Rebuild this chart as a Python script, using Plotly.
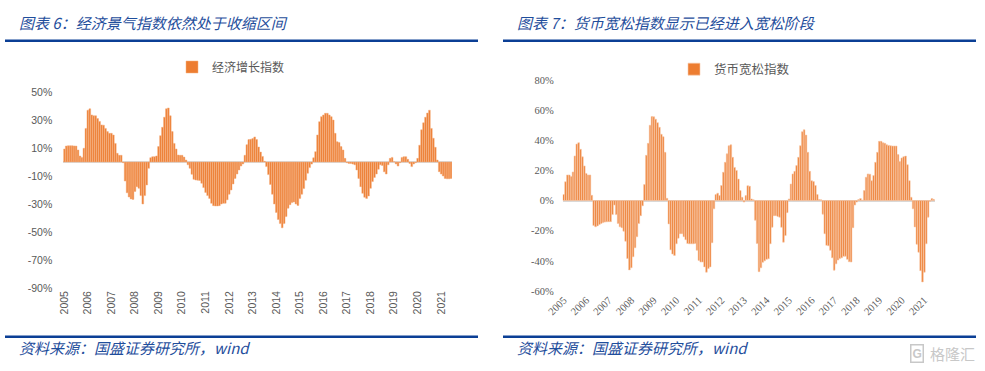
import plotly.graph_objects as go

# ---------------- data ----------------
months = [f"{y}-{m:02d}" for y in range(2005, 2022) for m in range(1, 13)][:198]
year_ticks = [f"{y}-01" for y in range(2005, 2022)]
year_labels = [str(y) for y in range(2005, 2022)]

econ_index = [
    9.3, 11.4, 11.6, 11.6, 11.6, 11.5, 11.4, 8.6, 4.3, 3.3, 9.8, 24,
    37, 38, 33.6, 33, 33, 31, 29, 26.5, 26.3, 24, 21.7, 20.5,
    20.5, 19.3, 13.3, 6.2, 4.8, 4.8, -0.5, -13.6, -22, -25, -26.4, -26.7,
    -21, -17.6, -18.8, -24, -30, -24, -16.4, -4.5, 3.1, 3.8, 3.8, 4.3,
    11, 18.8, 24.8, 32, 38, 38.6, 33, 21.7, 13.3, 9.3, 5, 4.8,
    4.8, 3.5, 1.4, -2, -4.5, -8.8, -12.4, -12.9, -13, -13.2, -15.2, -18.3,
    -21.7, -24, -26, -29.5, -31.2, -31.4, -31.4, -31.2, -30, -29.5, -29.5, -27,
    -23, -20, -15.7, -11.7, -8.6, -5.7, -2.9, -1.4, 4.8, 12.4, 16, 16.2,
    16.7, 17.9, 16, 10.7, 7.1, 4, 0.5, -3.3, -9, -16, -23, -30,
    -36, -41, -44, -47, -44, -39, -33, -30.5, -29, -28.5, -30, -31,
    -26, -23, -19, -13, -8, -4, -1.5, 3, 7.4, 19.3, 28.8, 32.4,
    33.6, 34.8, 34.8, 33.6, 32.4, 30, 20.5, 14.5, 14, 11, 8.6, 2.6,
    -0.5, -1, -1, -1.5, -2, -5.7, -11.7, -17.6, -22.4, -25.2, -26, -24.3,
    -18.8, -14, -11, -8.6, -5.2, -2, -2.5, -7, -8.6, -2, 2.6, 3.3,
    0.2, -1.4, -2.9, -0.5, 3.3, 3.8, 3.8, 1.9, -1, -3.3, -1.4, -0.5,
    2.6, 12, 23, 28, 32, 35, 37, 24, 17, 10.5, 1.4, -6.9,
    -8.6, -10, -11.7, -12, -12, -11.7,
]

money_index = [
    4, 12.5, 17, 17, 16, 19, 29.6, 37.5, 38.4, 34, 29, 23, 18, 17, 17, 3.5,
    -16.5, -17.4, -16.8, -15.9, -15.2, -14.6, -14.3, -14.1, -14, -14, -9.3, -3,
    -9.3, -15.2, -17.4, -18, -20.3, -27, -38.4, -46, -44.6, -37.3, -31.3, -24,
    -15.2, -10, -3.5,
    10.6, 30, 38, 50, 55.8, 55.6, 54, 51.7, 48.6, 44, 42.4, 32, 1.5,
    -15.5, -32.7, -35.5, -36.4, -28.7, -25, -22, -22, -24, -26, -28.5, -28.7,
    -28.7, -28.7, -28.5, -33, -39.7, -40.8, -40.8, -44, -47.5, -45, -44, -28, -5.5,
    4, 4.9, 3.3, 10, 18.8, 25.4, 31, 36.4, 37, 28.7, 22, 20, 14.3, 6.6, 2.2, -1,
    3.3, 9.9, 9.5, 1.1,
    0.5,
    -13, -28.5, -47.2, -44.6, -41, -40, -39, -38.6, -28.7, -17.7, -10, -10,
    -10.6, -11, -17.7, -27.6, -23.2, -8,
    1.1, 11, 17.7, 19.4, 23.2, 28.7, 36.4, 45.7, 47, 43.5, 32, 19.4, 13.2, 12.6,
    10, 4, 0.7, 0.5,
    -9, -22, -29.7, -30, -33, -38, -46.2, -42, -39.5, -38.5, -38, -37, -36.9,
    -39, -40.6, -40.8, -18, -3, -1,
    0.7, 1.3, 0.3, 6.6, 15.5, 17.7, 17.5, 13.2, 16.6, 25.4, 32, 39.3, 39.3, 38.4,
    38, 37, 36.6, 36.4, 36.2, 36.2, 36.2, 30.5, 26, 28.3, 29.1, 29.5, 23.8, 13.2, 2.2,
    -5.5, -17.5, -29, -34.3, -46.5, -54, -47.5, -28.7, -11,
    -0.5, 1.3, 0.8,
]

left_yticks = [-90, -70, -50, -30, -10, 10, 30, 50]
left_ylabels = ["-90%", "-70%", "-50%", "-30%", "-10%", "10%", "30%", "50%"]
right_yticks = [-60, -40, -20, 0, 20, 40, 60, 80]
right_ylabels = ["-60%", "-40%", "-20%", "0%", "20%", "40%", "60%", "80%"]

# ---------------- styling ----------------
W, H = 985, 371
ORANGE = "#ED7D31"
BLUE_TXT = "#1F4E9C"
BLUE_RULE = "#0B3F95"
GRAY_TXT = "#595959"
CJK = "Noto Sans CJK SC"


def px(x):
    return x / W


def py(y):
    return 1 - y / H


fig = go.Figure()

fig.add_trace(go.Bar(
    x=months, y=econ_index, name="经济增长指数",
    marker=dict(color=ORANGE, line=dict(color="#F4B183", width=0.5)),
    xaxis="x", yaxis="y", legend="legend",
))
fig.add_trace(go.Bar(
    x=months, y=money_index, name="货币宽松指数",
    marker=dict(color=ORANGE, line=dict(color="#F8CBAD", width=0.6)),
    xaxis="x2", yaxis="y2", legend="legend2",
))

fig.update_layout(
    template="none",
    width=W, height=H,
    margin=dict(l=0, r=0, t=0, b=0, pad=0, autoexpand=False),
    paper_bgcolor="white", plot_bgcolor="white",
    bargap=0.12,
    showlegend=True,
    xaxis=dict(
        domain=[px(63.3), px(452)], anchor="y", type="category",
        range=[-0.5, 197.5], tickmode="array",
        tickvals=year_ticks, ticktext=year_labels, tickangle=-90,
        tickfont=dict(family="Liberation Sans", size=10.5, color=GRAY_TXT),
        showgrid=False, zeroline=False, showline=False, ticks="",
        automargin=False,
    ),
    yaxis=dict(
        domain=[py(288), py(92)], anchor="x",
        range=[-90, 50], tickmode="array", tickvals=left_yticks,
        ticktext=left_ylabels,
        tickfont=dict(family="Liberation Sans", size=10.5, color=GRAY_TXT),
        showgrid=False, zeroline=True, zerolinecolor="#D9D9D9",
        zerolinewidth=1.5, showline=False, ticks="", ticklabelstandoff=10,
        automargin=False,
    ),
    xaxis2=dict(
        domain=[px(562.7), px(934.7)], anchor="y2", type="category",
        range=[-0.5, 197.5], tickmode="array",
        tickvals=year_ticks, ticktext=year_labels, tickangle=-45,
        tickfont=dict(family="Liberation Serif", size=10.5, color=GRAY_TXT),
        showgrid=False, zeroline=False, showline=False, ticks="",
        automargin=False,
    ),
    yaxis2=dict(
        domain=[py(291), py(80)], anchor="x2",
        range=[-60, 80], tickmode="array", tickvals=right_yticks,
        ticktext=right_ylabels,
        tickfont=dict(family="Liberation Serif", size=10.5, color=GRAY_TXT),
        showgrid=False, zeroline=True, zerolinecolor="#D9D9D9",
        zerolinewidth=1.5, showline=False, ticks="", ticklabelstandoff=8,
        automargin=False,
    ),
    legend=dict(
        x=px(172), y=py(67), xanchor="left", yanchor="middle",
        orientation="h", bgcolor="rgba(0,0,0,0)",
        font=dict(family=CJK, size=12, color=GRAY_TXT),
    ),
    legend2=dict(
        x=px(674), y=py(69.5), xanchor="left", yanchor="middle",
        orientation="h", bgcolor="rgba(0,0,0,0)",
        font=dict(family=CJK, size=12.5, color=GRAY_TXT),
    ),
)

# rules
for x0, x1 in [(5, 478), (503, 976)]:
    for yy in (40.7, 336.7):
        fig.add_shape(type="line", xref="paper", yref="paper",
                      x0=px(x0), x1=px(x1), y0=py(yy), y1=py(yy),
                      line=dict(color=BLUE_RULE, width=2.5))

# titles and sources
texts = [
    (17, 22.5, "<i>图表 6：经济景气指数依然处于收缩区间</i>", 15),
    (515, 22.5, "<i>图表 7：货币宽松指数显示已经进入宽松阶段</i>", 15),
    (17, 347, "<i>资料来源：国盛证券研究所，wind</i>", 15),
    (515, 347, "<i>资料来源：国盛证券研究所，wind</i>", 15),
]
for x, y, t, s in texts:
    fig.add_annotation(x=px(x), y=py(y), xref="paper", yref="paper",
                       xanchor="left", yanchor="middle", showarrow=False,
                       text=t, font=dict(family=CJK, size=s, color=BLUE_TXT))

# watermark
fig.add_annotation(x=px(917), y=py(353), xref="paper", yref="paper",
                   xanchor="center", yanchor="middle", showarrow=False,
                   text="<b>G</b>", bordercolor="#C8C8C8", borderwidth=1.5,
                   borderpad=1, font=dict(family="Liberation Sans", size=12, color="#C8C8C8"))
fig.add_annotation(x=px(928), y=py(353), xref="paper", yref="paper",
                   xanchor="left", yanchor="middle", showarrow=False,
                   text="格隆汇", font=dict(family=CJK, size=15, color="#C8C8C8"))

fig.write_html(
    "out.html",
    config={"displayModeBar": False},
    post_script="document.body.style.margin='0';document.body.style.overflow='hidden';",
)
